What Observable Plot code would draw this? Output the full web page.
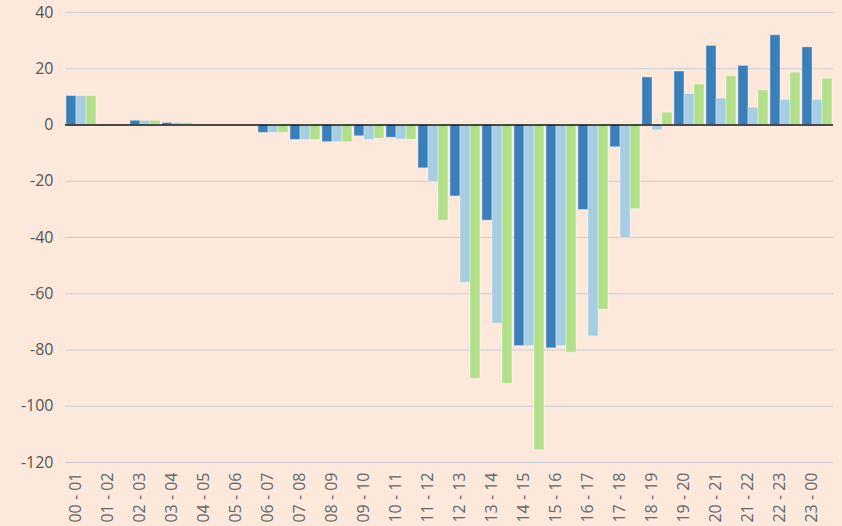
<!DOCTYPE html>
<html>
<head>
<meta charset="utf-8">
<script src="https://cdn.jsdelivr.net/npm/d3@7"></script>
<script src="https://cdn.jsdelivr.net/npm/@observablehq/plot@0.6"></script>
<style>
  html, body { margin: 0; padding: 0; background: #fde9dc; }
  #chart { width: 842px; height: 526px; overflow: hidden; }
</style>
</head>
<body>
<div id="chart"></div>
<script>
const categories = ["00 - 01","01 - 02","02 - 03","03 - 04","04 - 05","05 - 06","06 - 07","07 - 08","08 - 09","09 - 10","10 - 11","11 - 12","12 - 13","13 - 14","14 - 15","15 - 16","16 - 17","17 - 18","18 - 19","19 - 20","20 - 21","21 - 22","22 - 23","23 - 00"];
const seriesNames = ["Series 1", "Series 2", "Series 3"];
const series1 = [10.3, 0, 1.5, 0.7, 0, 0, -2.8, -5.3, -6.1, -4.0, -4.5, -15.4, -25.4, -34.0, -78.6, -79.4, -30.2, -7.9, 16.9, 19.0, 28.1, 21.0, 31.9, 27.6];
const series2 = [10.3, 0, 1.5, 0.7, 0, 0, -2.8, -5.3, -6.1, -5.3, -5.2, -20.2, -56.1, -70.6, -78.6, -78.6, -75.2, -40.2, -1.9, 11.0, 9.4, 6.1, 8.9, 8.9];
const series3 = [10.3, 0, 1.5, 0.7, 0, 0, -2.8, -5.3, -6.1, -4.8, -5.2, -34.0, -90.2, -92.0, -115.6, -81.0, -65.7, -29.9, 4.4, 14.4, 17.3, 12.3, 18.6, 16.4];
const yTicks = [-120, -100, -80, -60, -40, -20, 0, 20, 40];
const colors = ["#3a7fb9", "#a6cee3", "#b2df8a"];

const allSeries = [series1, series2, series3];
const data = [];
categories.forEach((c, i) => {
  allSeries.forEach((s, j) => {
    data.push({cat: c, series: seriesNames[j], value: s[i]});
  });
});

const chart = Plot.plot({
  width: 842,
  height: 526,
  marginLeft: 62,
  marginRight: 7,
  marginTop: 12,
  marginBottom: 64,
  style: {background: "#fde9dc", fontFamily: "'Open Sans', sans-serif", fontSize: "16px", color: "#555"},
  fx: {domain: categories, padding: 0, label: null},
  x: {domain: seriesNames, paddingInner: 0.05, paddingOuter: 0.1, axis: null},
  y: {domain: [-120, 40], label: null},
  color: {domain: seriesNames, range: colors},
  marks: [
    Plot.gridY(yTicks, {stroke: "#c7ccd5", strokeOpacity: 1, strokeWidth: 1}),
    Plot.axisY(yTicks, {tickSize: 0, tickPadding: 12, label: null, fill: "#555", tickFormat: d => String(d)}),
    Plot.barY(data, {fx: "cat", x: "series", y: "value", fill: "series", stroke: "#ffffff", strokeOpacity: 0.35, strokeWidth: 1}),
    Plot.ruleY([0], {stroke: "#1a1a1a", strokeWidth: 1.5}),
    Plot.axisFx({anchor: "bottom", tickRotate: -90, tickSize: 0, tickPadding: 10, dx: -6, label: null, fill: "#666"})
  ]
});
document.getElementById("chart").appendChild(chart);
</script>
</body>
</html>
